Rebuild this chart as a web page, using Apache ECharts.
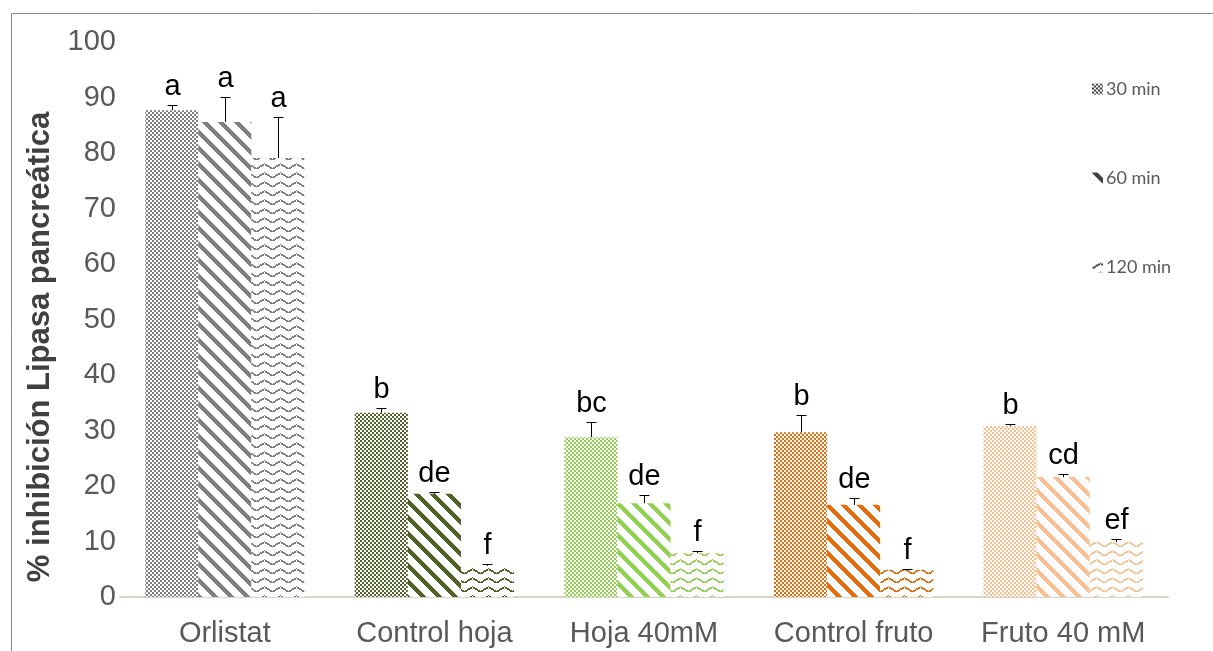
<!DOCTYPE html>
<html>
<head>
<meta charset="utf-8">
<script src="https://cdn.jsdelivr.net/npm/echarts@6/dist/echarts.min.js"></script>
<style>
  html, body { margin: 0; padding: 0; background: #ffffff; }
  #chart { width: 1213px; height: 651px; }
</style>
</head>
<body>
<div id="chart"></div>
<script>
// Treatments on the category axis
const categories = ['Orlistat', 'Control hoja', 'Hoja 40mM', 'Control fruto', 'Fruto 40 mM'];
// Incubation times (one bar series each)
const seriesNames = ['30 min', '60 min', '120 min'];
// Mean % inhibition of pancreatic lipase
const inhib30  = [87.7, 33.2, 28.8, 29.7, 30.8];
const inhib60  = [85.6, 18.6, 16.9, 16.6, 21.6];
const inhib120 = [79.1, 5.6, 7.9, 4.9, 9.9];
// Upper error (standard deviation)
const err30  = [1.0, 0.9, 2.7, 3.1, 0.3];
const err60  = [4.5, 0.4, 1.5, 1.2, 0.5];
const err120 = [7.4, 0.3, 0.4, 0.2, 0.6];
// Significance letters above each bar
const letters30  = ['a', 'b', 'bc', 'b', 'b'];
const letters60  = ['a', 'de', 'de', 'de', 'cd'];
const letters120 = ['a', 'f', 'f', 'f', 'ef'];
// Y axis ticks
const yTicks = [0, 10, 20, 30, 40, 50, 60, 70, 80, 90, 100];

const groupColors = ['#7f7f7f', '#4f6228', '#92d050', '#e46c0a', '#fac090'];
const legendColor = '#3f3f3f';
const CATEGORY_GAP = 0.24;

// ---- fill patterns ------------------------------------------------------
function tile(w, h, draw) {
  const c = document.createElement('canvas');
  c.width = w; c.height = h;
  const g = c.getContext('2d');
  g.fillStyle = '#ffffff';
  g.fillRect(0, 0, w, h);
  draw(g);
  return { image: c, repeat: 'repeat' };
}
// fine checkerboard
function checker(color) {
  return tile(4, 4, g => {
    g.fillStyle = color;
    g.fillRect(0, 0, 2, 2);
    g.fillRect(2, 2, 2, 2);
  });
}
// wide downward diagonal stripes
function stripes(color) {
  return tile(16, 16, g => {
    g.fillStyle = color;
    for (let y = 0; y < 16; y++) {
      for (let k = 0; k < 6; k++) g.fillRect((y + k) % 16, y, 1, 1);
    }
  });
}
// zigzag wave
function wave(color) {
  return tile(16, 9, g => {
    g.fillStyle = color;
    for (let x = 0; x < 16; x++) {
      const t = x < 8 ? x : 16 - x;
      const y = 6 - Math.round(t * 5 / 8);
      g.fillRect(x, y, 1, 1);
      if (x % 8 !== 0) g.fillRect(x, y + 1, 1, 1);
    }
  });
}
const patternMakers = [checker, stripes, wave];

const values = [inhib30, inhib60, inhib120];
const errors = [err30, err60, err120];
const letters = [letters30, letters60, letters120];

const barSeries = seriesNames.map((name, s) => ({
  name: name,
  type: 'bar',
  barGap: '0%',
  barCategoryGap: (CATEGORY_GAP * 100) + '%',
  itemStyle: { color: patternMakers[s](legendColor) },
  emphasis: { disabled: true },
  data: values[s].map((v, i) => ({
    value: v,
    itemStyle: { color: patternMakers[s](groupColors[i]) }
  })),
  z: 2
}));

// error bars (plus direction) and letters, one custom series per time
const errSeries = seriesNames.map((name, s) => ({
  name: 'sd ' + name,
  type: 'custom',
  z: 5,
  silent: true,
  encode: { x: 0, y: 1 },
  data: values[s].map((v, i) => [i, v, errors[s][i]]),
  renderItem: function (params, api) {
    const cat = api.value(0), val = api.value(1), err = api.value(2);
    const bandW = api.size([1, 0])[0];
    const barW = bandW * (1 - CATEGORY_GAP) / 3;
    const p0 = api.coord([cat, val]);
    const x = Math.round(p0[0] + (s - 1) * barW) + 0.5;
    const yTop = Math.round(api.coord([cat, val + err])[1]) + 0.5;
    const yVal = p0[1];
    const lineStyle = { stroke: '#000000', lineWidth: 1 };
    return {
      type: 'group',
      children: [
        { type: 'line', shape: { x1: x, y1: yVal, x2: x, y2: yTop }, style: lineStyle },
        { type: 'line', shape: { x1: x - 5, y1: yTop, x2: x + 5, y2: yTop }, style: lineStyle },
        {
          type: 'text',
          x: x, y: yTop - 4,
          style: {
            text: letters[s][params.dataIndex],
            fontFamily: 'Liberation Sans, Arial, sans-serif',
            fontSize: 29,
            fill: '#000000',
            align: 'center',
            verticalAlign: 'bottom'
          }
        }
      ]
    };
  }
}));

const chart = echarts.init(document.getElementById('chart'), null, { renderer: 'canvas' });
chart.setOption({
  animation: false,
  backgroundColor: '#ffffff',
  grid: { left: 120, right: 45, top: 42, bottom: 54, containLabel: false },
  legend: {
    data: seriesNames,
    orient: 'vertical',
    left: 1087,
    top: 75,
    itemWidth: 11,
    itemHeight: 11,
    itemGap: 71,
    icon: 'rect',
    selectedMode: false,
    textStyle: { fontFamily: 'Lato, Open Sans, sans-serif', fontSize: 18, color: '#595959', padding: [0, 0, 0, -2] }
  },
  xAxis: {
    type: 'category',
    data: categories,
    axisLine: { show: true, lineStyle: { color: '#d9d5c0', width: 2 } },
    axisTick: { show: false },
    axisLabel: {
      interval: 0,
      fontFamily: 'Liberation Sans, Arial, sans-serif',
      fontSize: 29,
      color: '#595959',
      margin: 22
    }
  },
  yAxis: {
    type: 'value',
    min: yTicks[0],
    max: yTicks[yTicks.length - 1],
    interval: 10,
    axisLine: { show: false },
    axisTick: { show: false },
    splitLine: { show: false },
    axisLabel: {
      fontFamily: 'Liberation Sans, Arial, sans-serif',
      fontSize: 29,
      color: '#595959',
      margin: 4
    }
  },
  graphic: [
    {
      type: 'rect',
      shape: { x: 11.5, y: 13.5, width: 1220, height: 660 },
      style: { fill: 'none', stroke: '#8c8c8c', lineWidth: 1 },
      silent: true
    },
    {
      type: 'text',
      x: 40, y: 347,
      rotation: Math.PI / 2,
      style: {
        text: '% inhibición Lipasa pancreática',
        fontFamily: 'Liberation Sans, Arial, sans-serif',
        fontWeight: 'bold',
        fontSize: 31,
        fill: '#404040',
        align: 'center',
        verticalAlign: 'middle'
      },
      silent: true
    }
  ],
  series: barSeries.concat(errSeries)
});
</script>
</body>
</html>
